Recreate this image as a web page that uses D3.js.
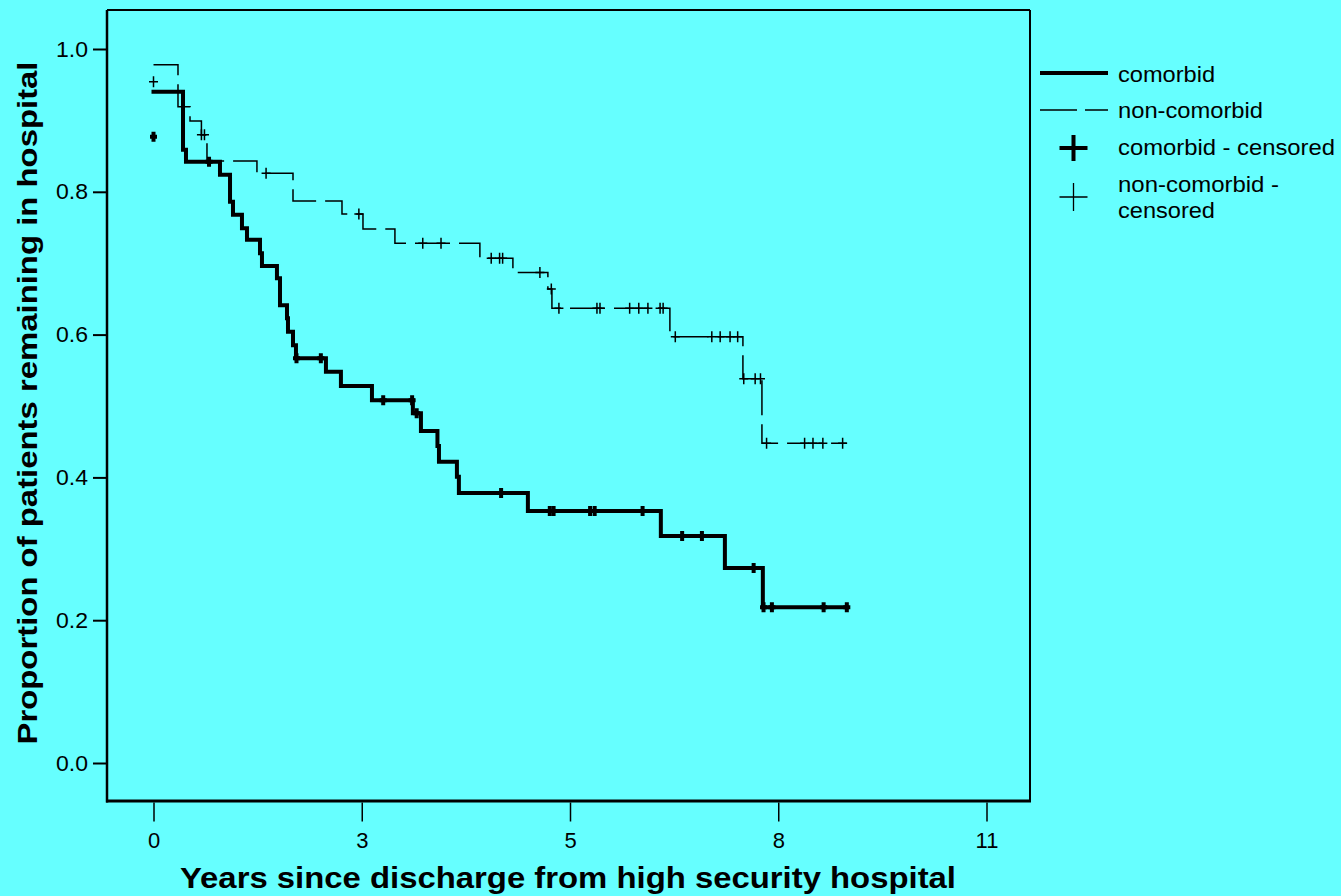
<!DOCTYPE html>
<html>
<head>
<meta charset="utf-8">
<script src="https://cdn.jsdelivr.net/npm/d3@7"></script>
<style>
    body { margin: 0; background: #66ffff; }
    svg { display: block; }
    text { font-family: "Liberation Sans", Arial, sans-serif; fill: #000; }
</style>
</head>
<body>
<div id="chart"></div>
<script>
/*
Kaplan-Meier style step chart, comorbid vs non-comorbid
 */

//comorbid curve: start value, then (year, proportion) after each drop
var comorbidStart = 0.940;
var comorbidYears = [0.388, 0.427, 0.874, 1.006, 1.045, 1.163, 1.229, 1.400, 1.426, 1.623, 1.663, 1.755, 1.768, 1.834, 1.873,
    2.267, 2.464, 2.872, 3.410, 3.516, 3.733, 3.753, 3.989, 4.015, 4.922, 6.670, 7.512, 8.011];
var comorbidValues = [0.859, 0.842, 0.824, 0.786, 0.768, 0.749, 0.733, 0.714, 0.696, 0.679, 0.641, 0.623, 0.604, 0.585, 0.567,
    0.548, 0.528, 0.508, 0.490, 0.465, 0.444, 0.422, 0.401, 0.378, 0.353, 0.318, 0.273, 0.218];
var comorbidEnd = 9.115;

//non-comorbid curve
var nonComorbidStart = 0.978;
var nonComorbidYears = [0.322, 0.480, 0.630, 0.703, 1.360, 1.834, 2.478, 2.754, 3.174, 4.291, 4.725, 5.185, 5.238, 6.789, 7.749, 7.999];
var nonComorbidValues = [0.919, 0.899, 0.880, 0.843, 0.826, 0.787, 0.769, 0.748, 0.728, 0.707, 0.687, 0.664, 0.637, 0.597, 0.538, 0.448];
var nonComorbidEnd = 9.115;

//censored cases
var comorbidCensYears = [0, 0.73, 1.88, 2.20, 3.02, 3.40, 3.46, 4.57, 5.21, 5.26, 5.74, 5.80, 6.43, 6.95, 7.21, 7.89, 8.02, 8.13, 8.81, 9.115];
var comorbidCensValues = [0.877, 0.842, 0.567, 0.567, 0.508, 0.508, 0.490, 0.378, 0.353, 0.353, 0.353, 0.353, 0.353, 0.318, 0.318,
    0.273, 0.218, 0.218, 0.218, 0.218];
var nonComorbidCensYears = [0, 0.63, 0.67, 1.48, 2.70, 3.54, 3.78, 4.44, 4.55, 4.59, 5.08, 5.23,
    5.33, 5.83, 5.87, 6.26, 6.38, 6.50, 6.66, 6.70, 6.86, 7.34, 7.45, 7.58, 7.68, 7.76, 7.91, 7.98,
    8.06, 8.56, 8.67, 8.80, 9.06];
var nonComorbidCensValues = [0.954, 0.880, 0.880, 0.826, 0.769, 0.728, 0.728, 0.707, 0.707, 0.707, 0.687, 0.664,
    0.637, 0.637, 0.637, 0.637, 0.637, 0.637, 0.637, 0.637, 0.597, 0.597, 0.597, 0.597, 0.597, 0.538, 0.538, 0.538,
    0.448, 0.448, 0.448, 0.448, 0.448];

//axis ticks (x ticks every 1000 days, labelled in rounded years)
var xTickDays = [0, 1000, 2000, 3000, 4000];
var xTickLabels = ["0", "3", "5", "8", "11"];
var yTicks = [0, 0.2, 0.4, 0.6, 0.8, 1.0];

var legendLabels = ["comorbid", "non-comorbid", "comorbid - censored", "non-comorbid -", "censored"];

var width = 1341, height = 896;

var svg = d3.select("#chart")
    .append("svg")
    .attr("width", width)
    .attr("height", height);

svg.append("rect")
    .attr("width", width)
    .attr("height", height)
    .attr("fill", "#66ffff");

//scales
var xScale = d3.scaleLinear()
    .domain([0, 4000 / 365.25])
    .range([153.5, 986.5]);
var yScale = d3.scaleLinear()
    .domain([0, 1])
    .range([763, 49]);

//frame
var frame = { left: 107, top: 10, right: 1030, bottom: 801 };
svg.append("line").attr("x1", frame.left).attr("x2", frame.right).attr("y1", frame.top).attr("y2", frame.top)
    .attr("stroke", "#000").attr("stroke-width", 2);
svg.append("line").attr("x1", frame.right).attr("x2", frame.right).attr("y1", frame.top).attr("y2", frame.bottom)
    .attr("stroke", "#000").attr("stroke-width", 2);
svg.append("line").attr("x1", frame.left).attr("x2", frame.left).attr("y1", frame.top).attr("y2", frame.bottom + 1.5)
    .attr("stroke", "#000").attr("stroke-width", 2.5);
svg.append("line").attr("x1", frame.left - 1).attr("x2", frame.right + 1).attr("y1", frame.bottom).attr("y2", frame.bottom)
    .attr("stroke", "#000").attr("stroke-width", 3);

//axes
var yAxis = d3.axisLeft(yScale)
    .tickValues(yTicks)
    .tickSize(14)
    .tickPadding(5)
    .tickFormat(d3.format(".1f"));

var gy = svg.append("g")
    .attr("transform", "translate(" + frame.left + ",0)")
    .call(yAxis);
gy.select(".domain").remove();
gy.selectAll(".tick line").attr("stroke-width", 2);
gy.selectAll(".tick text")
    .attr("font-size", 22)
    .attr("font-family", null)
    .attr("textLength", 32)
    .attr("lengthAdjust", "spacingAndGlyphs");

var xAxis = d3.axisBottom(xScale)
    .tickValues(xTickDays.map(function (d) { return d / 365.25; }))
    .tickSize(19)
    .tickPadding(11)
    .tickFormat(function (d, i) { return xTickLabels[i]; });

var gx = svg.append("g")
    .attr("transform", "translate(0," + (frame.bottom + 1.5) + ")")
    .call(xAxis);
gx.select(".domain").remove();
gx.selectAll(".tick line").attr("stroke-width", 1.5);
gx.selectAll(".tick text")
    .attr("font-size", 22)
    .attr("font-family", null);

//axis titles
svg.append("text")
    .attr("x", 568)
    .attr("y", 888)
    .attr("text-anchor", "middle")
    .attr("font-size", 30)
    .attr("font-weight", "bold")
    .attr("textLength", 776)
    .attr("lengthAdjust", "spacingAndGlyphs")
    .text("Years since discharge from high security hospital");

svg.append("text")
    .attr("transform", "translate(37,403) rotate(-90)")
    .attr("text-anchor", "middle")
    .attr("font-size", 27)
    .attr("font-weight", "bold")
    .attr("textLength", 683)
    .attr("lengthAdjust", "spacingAndGlyphs")
    .text("Proportion of patients remaining in hospital");

//step curves
function stepPoints(start, years, values, end) {
    var pts = [{ t: 0, p: start }];
    years.forEach(function (t, i) { pts.push({ t: t, p: values[i] }); });
    pts.push({ t: end, p: values[values.length - 1] });
    return pts;
}

var line = d3.line()
    .x(function (d) { return xScale(d.t); })
    .y(function (d) { return yScale(d.p); })
    .curve(d3.curveStepAfter);

svg.append("path")
    .datum(stepPoints(nonComorbidStart, nonComorbidYears, nonComorbidValues, nonComorbidEnd))
    .attr("d", line)
    .attr("fill", "none")
    .attr("stroke", "#000")
    .attr("stroke-width", 1.5)
    .attr("stroke-dasharray", "35,9");

svg.append("path")
    .datum(stepPoints(comorbidStart, comorbidYears, comorbidValues, comorbidEnd))
    .attr("d", line)
    .attr("fill", "none")
    .attr("stroke", "#000")
    .attr("stroke-width", 4)
    .attr("stroke-linejoin", "miter")
    .attr("stroke-linecap", "square");

//censored markers
function plusPath(cx, cy, hx, hy) {
    return "M" + (cx - hx) + "," + cy + "H" + (cx + hx) + "M" + cx + "," + (cy - hy) + "V" + (cy + hy);
}

svg.append("g").selectAll("path")
    .data(nonComorbidCensYears.map(function (t, i) { return { t: t, p: nonComorbidCensValues[i] }; }))
    .enter().append("path")
    .attr("d", function (d) { return plusPath(xScale(d.t), yScale(d.p), 4.5, 5.5); })
    .attr("stroke", "#000")
    .attr("stroke-width", 1.5)
    .attr("fill", "none");

svg.append("g").selectAll("path")
    .data(comorbidCensYears.map(function (t, i) { return { t: t, p: comorbidCensValues[i] }; }))
    .enter().append("path")
    .attr("d", function (d) { return plusPath(xScale(d.t), yScale(d.p), 3.5, 5); })
    .attr("stroke", "#000")
    .attr("stroke-width", 4)
    .attr("fill", "none");

//legend
var legend = svg.append("g");
legend.append("line").attr("x1", 1040).attr("x2", 1108).attr("y1", 73).attr("y2", 73)
    .attr("stroke", "#000").attr("stroke-width", 4);
legend.append("line").attr("x1", 1040).attr("x2", 1108).attr("y1", 110).attr("y2", 110)
    .attr("stroke", "#000").attr("stroke-width", 1.3).attr("stroke-dasharray", "37,8");
legend.append("path").attr("d", plusPath(1073.5, 148, 14, 13))
    .attr("stroke", "#000").attr("stroke-width", 4);
legend.append("path").attr("d", plusPath(1073.5, 197, 14, 14))
    .attr("stroke", "#000").attr("stroke-width", 1.3);

var legendY = [82, 118, 155, 192, 218];
var legendW = [97, 145, 217, 161, 97];
legend.selectAll("text")
    .data(legendLabels)
    .enter().append("text")
    .attr("x", 1118)
    .attr("y", function (d, i) { return legendY[i]; })
    .attr("font-size", 22)
    .attr("textLength", function (d, i) { return legendW[i]; })
    .attr("lengthAdjust", "spacingAndGlyphs")
    .text(function (d) { return d; });
</script>
</body>
</html>
